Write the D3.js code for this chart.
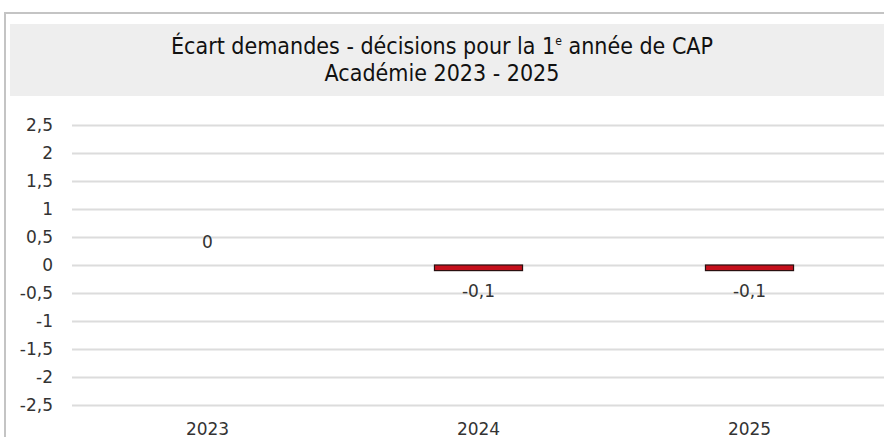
<!DOCTYPE html>
<html>
<head>
<meta charset="utf-8">
<script src="https://cdn.jsdelivr.net/npm/d3@7"></script>
<style>
  body { margin: 0; background: #fff; }
  svg { display: block; }
</style>
</head>
<body>
<div id="chart"></div>
<script>
var svgWidth = 884;
var svgHeight = 437;

// data
var years = ["2023", "2024", "2025"];
var ecart = [0, -0.1, -0.1];
var yTicks = [-2.5, -2, -1.5, -1, -0.5, 0, 0.5, 1, 1.5, 2, 2.5];

var margin = { top: 125, right: -1, bottom: 32, left: 72 };
var width = svgWidth - margin.left - margin.right;
var height = 280;

var numFont = "'DejaVu Sans', sans-serif";

var svg = d3.select("#chart")
    .append("svg")
    .attr("width", svgWidth)
    .attr("height", svgHeight);

// frame
svg.append("path")
    .attr("d", "M5,437 V13 H884")
    .attr("fill", "none")
    .attr("stroke", "#c4c4c4")
    .attr("stroke-width", 2);

// title box
svg.append("rect")
    .attr("x", 10).attr("y", 24)
    .attr("width", 874).attr("height", 72)
    .attr("fill", "#eeeeee");

var title = svg.append("text")
    .attr("text-anchor", "middle")
    .attr("font-family", "'Liberation Sans Narrow', 'DejaVu Sans Condensed', sans-serif")
    .attr("font-size", "23px")
    .attr("fill", "#111");

var l1 = title.append("tspan").attr("x", 442).attr("y", 54);
l1.append("tspan").text("Écart demandes - décisions pour la 1");
l1.append("tspan").attr("font-size", "12px").attr("dy", "-9").text("e");
l1.append("tspan").attr("dy", "9").text(" année de CAP");
title.append("tspan").attr("x", 442).attr("y", 81).text("Académie 2023 - 2025");

var chartGroup = svg.append("g")
    .attr("transform", `translate(${margin.left}, ${margin.top})`);

var x = d3.scaleBand()
    .domain(years)
    .range([0, width])
    .paddingInner(0.675)
    .paddingOuter(0.3375);

var y = d3.scaleLinear()
    .domain([-2.5, 2.5])
    .range([height, 0]);

var fmt = function(d) { return String(d).replace(".", ","); };

// gridlines + y labels
var leftAxis = d3.axisLeft(y)
    .tickValues(yTicks)
    .tickSize(-width)
    .tickPadding(19)
    .tickFormat(fmt);

var yAxis = chartGroup.append("g").call(leftAxis);
yAxis.select(".domain").remove();
yAxis.selectAll(".tick line").attr("stroke", "#dcdcdc").attr("stroke-width", 2);
yAxis.selectAll(".tick text")
    .attr("font-family", numFont)
    .attr("font-size", "17px")
    .attr("fill", "#333");

// x labels
var bottomAxis = d3.axisBottom(x).tickSize(0).tickPadding(18);
var xAxis = chartGroup.append("g")
    .attr("transform", `translate(0, ${height})`)
    .call(bottomAxis);
xAxis.select(".domain").remove();
xAxis.selectAll(".tick text")
    .attr("font-family", numFont)
    .attr("font-size", "17px")
    .attr("fill", "#333");

var data = years.map(function(d, i) { return { year: d, value: ecart[i] }; });

// bars
chartGroup.selectAll("rect.bar")
    .data(data.filter(function(d) { return d.value !== 0; }))
    .enter()
    .append("rect")
    .attr("class", "bar")
    .attr("x", function(d) { return x(d.year); })
    .attr("y", function(d) { return y(Math.max(0, d.value)); })
    .attr("width", x.bandwidth())
    .attr("height", function(d) { return Math.abs(y(d.value) - y(0)); })
    .attr("fill", "#c5101c")
    .attr("stroke", "#2a1010")
    .attr("stroke-width", 1.2);

// value labels
chartGroup.selectAll("text.val")
    .data(data)
    .enter()
    .append("text")
    .attr("class", "val")
    .attr("x", function(d) { return x(d.year) + x.bandwidth() / 2; })
    .attr("y", function(d) { return d.value < 0 ? y(d.value) + 26 : y(d.value) - 17; })
    .attr("text-anchor", "middle")
    .attr("font-family", numFont)
    .attr("font-size", "17px")
    .attr("fill", "#333")
    .text(function(d) { return fmt(d.value); });
</script>
</body>
</html>
